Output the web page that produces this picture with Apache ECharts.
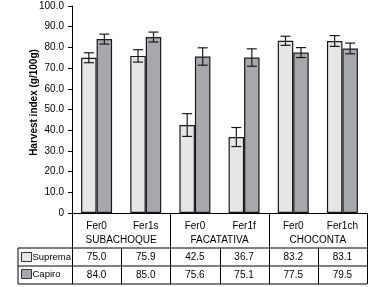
<!DOCTYPE html>
<html>
<head>
<meta charset="utf-8">
<script src="https://cdn.jsdelivr.net/npm/echarts@6/dist/echarts.min.js"></script>
<style>
  html, body { margin: 0; padding: 0; background: #fff; }
  #chart { width: 381px; height: 287px; }
</style>
</head>
<body>
<div id="chart"></div>
<script>
// data
const categories = ["Fer0", "Fer1s", "Fer0", "Fer1f", "Fer0", "Fer1ch"];
const groups = ["SUBACHOQUE", "FACATATIVA", "CHOCONTA"];
const suprema = [75.0, 75.9, 42.5, 36.7, 83.2, 83.1];
const capiro = [84.0, 85.0, 75.6, 75.1, 77.5, 79.5];
const supremaErr = [2.4, 3.0, 5.5, 4.6, 2.2, 2.6];
const capiroErr = [2.4, 2.4, 4.2, 4.2, 2.4, 2.6];
const yTicks = [0, 10, 20, 30, 40, 50, 60, 70, 80, 90, 100];

const FONT = "'Liberation Sans', Arial, sans-serif";
const gapPct = 37;

// layout (px)
const gridL = 72, gridR = 14, gridT = 6, gridB = 74;
const W = 381, H = 287;
const axisY = H - gridB;          // 213
const row1 = 248, row2 = 266, rowEnd = 284, tableL = 18;

const chart = echarts.init(document.getElementById("chart"), null, { renderer: "canvas" });

const errData = [];
suprema.forEach((v, i) => errData.push([i, v, supremaErr[i], 0]));
capiro.forEach((v, i) => errData.push([i, v, capiroErr[i], 1]));

function renderErr (params, api) {
    const i = api.value(0), v = api.value(1), e = api.value(2), s = api.value(3);
    const band = api.size([1, 0])[0];
    const barW = band * (1 - gapPct / 100) / 2;
    const off = (s === 0 ? -0.5 : 0.5) * barW;
    const top = api.coord([i, v + e]);
    const bot = api.coord([i, v - e]);
    const cx = top[0] + off;
    const st = { stroke: "#1a1a1a", lineWidth: 1.2 };
    return {
        type: "group",
        children: [
            { type: "line", shape: { x1: cx, y1: top[1], x2: cx, y2: bot[1] }, style: st },
            { type: "line", shape: { x1: cx - 5, y1: top[1], x2: cx + 5, y2: top[1] }, style: st },
            { type: "line", shape: { x1: cx - 5, y1: bot[1], x2: cx + 5, y2: bot[1] }, style: st }
        ]
    };
}

const lineStyle = { stroke: "#000", lineWidth: 1 };
const hLine = (y, x1) => ({ type: "line", shape: { x1: x1, y1: y, x2: W - gridR, y2: y }, style: lineStyle });
const vLine = (x, y1, y2) => ({ type: "line", shape: { x1: x, y1: y1, x2: x, y2: y2 }, style: lineStyle });

const labelStyle = { color: "#000", fontFamily: FONT, fontSize: 10 };
const noLine = { show: false };

const option = {
    animation: false,
    grid: { left: gridL, right: gridR, top: gridT, bottom: gridB },
    legend: {
        orient: "vertical",
        left: 21,
        top: row1 + 4,
        itemWidth: 10,
        itemHeight: 9,
        itemGap: 7,
        padding: 0,
        icon: "rect",
        selectedMode: false,
        data: ["Suprema", "Capiro"],
        itemStyle: { borderColor: "#333", borderWidth: 1 },
        textStyle: { color: "#000", fontFamily: FONT, fontSize: 9.5, padding: [0, 0, 0, -4] }
    },
    xAxis: [
        {
            type: "category",
            data: categories,
            axisLine: { lineStyle: { color: "#000", width: 1 } },
            axisTick: { length: 19, interval: 0, lineStyle: { color: "#000" } },
            axisLabel: Object.assign({ margin: 8, interval: 0 }, labelStyle)
        },
        {
            type: "category",
            data: groups,
            position: "bottom",
            axisLine: noLine,
            axisTick: { show: false },
            axisLabel: Object.assign({ margin: 22, interval: 0 }, labelStyle)
        },
        {
            type: "category",
            data: suprema.map(v => v.toFixed(1)),
            position: "bottom",
            offset: row1 - axisY,
            axisLine: noLine,
            axisTick: { show: false },
            axisLabel: Object.assign({ margin: 4, interval: 0 }, labelStyle)
        },
        {
            type: "category",
            data: capiro.map(v => v.toFixed(1)),
            position: "bottom",
            offset: row2 - axisY,
            axisLine: noLine,
            axisTick: { show: false },
            axisLabel: Object.assign({ margin: 4, interval: 0 }, labelStyle)
        }
    ],
    yAxis: {
        type: "value",
        min: yTicks[0],
        max: yTicks[yTicks.length - 1],
        interval: 10,
        name: "Harvest index (g/100g)",
        nameLocation: "middle",
        nameGap: 33,
        nameMoveOverlap: false,
        nameTextStyle: { color: "#000", fontFamily: FONT, fontSize: 10, fontWeight: "bold", padding: [0, 0, 0, 14] },
        axisLine: { show: true, lineStyle: { color: "#000", width: 1 } },
        axisTick: { show: true, length: 4, lineStyle: { color: "#000" } },
        splitLine: { show: false },
        axisLabel: Object.assign({ margin: 8, formatter: v => (v === 0 ? "0" : v.toFixed(1)) }, labelStyle)
    },
    series: [
        {
            name: "Suprema",
            type: "bar",
            data: suprema,
            barGap: 0,
            barCategoryGap: gapPct + "%",
            itemStyle: { color: "#e6e6e6", borderColor: "#1a1a1a", borderWidth: 1.2 },
            silent: true
        },
        {
            name: "Capiro",
            type: "bar",
            data: capiro,
            barGap: 0,
            barCategoryGap: gapPct + "%",
            itemStyle: { color: "#a7a8ac", borderColor: "#1a1a1a", borderWidth: 1.2 },
            silent: true
        },
        {
            type: "custom",
            renderItem: renderErr,
            data: errData,
            z: 10,
            silent: true
        }
    ]
};

chart.setOption(option);

// table borders, placed on the category boundaries of the x axis
const c0 = chart.convertToPixel({ xAxisIndex: 0 }, 0);
const c1 = chart.convertToPixel({ xAxisIndex: 0 }, 1);
const band = c1 - c0;
const graphic = [
    hLine(row1, tableL),
    hLine(row2, tableL),
    hLine(rowEnd, tableL),
    vLine(tableL, row1, rowEnd)
];
for (let i = 0; i <= categories.length; i++) {
    const x = Math.round(c0 - band / 2 + i * band) + 0.5;
    if (i % 2 === 0) graphic.push(vLine(x, axisY, rowEnd));
    else graphic.push(vLine(x, row1, rowEnd));
}
chart.setOption({ graphic: graphic });
</script>
</body>
</html>
